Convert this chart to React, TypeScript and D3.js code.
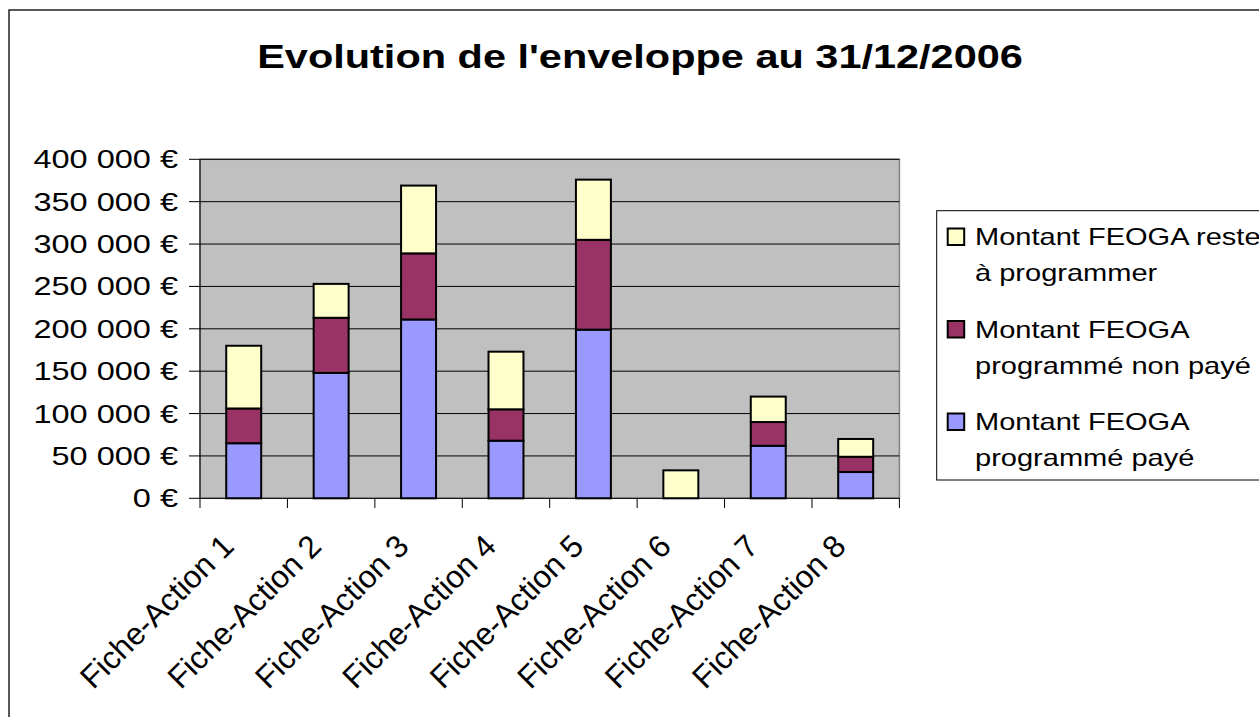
import React from "react";
import * as d3 from "d3";

const categories = [
  "Fiche-Action 1", "Fiche-Action 2", "Fiche-Action 3", "Fiche-Action 4",
  "Fiche-Action 5", "Fiche-Action 6", "Fiche-Action 7", "Fiche-Action 8",
];
// stacked bottom -> top
const programmePaye = [65000, 148000, 211000, 68000, 199000, 0, 62000, 31000];
const programmeNonPaye = [41000, 65000, 78000, 37000, 106000, 0, 28000, 18000];
const resteAProgrammer = [74000, 40000, 80000, 68000, 71000, 33000, 30000, 21000];

const seriesKeys = ["paye", "nonPaye", "reste"];
const seriesColors: Record<string, string> = {
  paye: "#9999FF",
  nonPaye: "#993366",
  reste: "#FFFFCC",
};
// legend lists top series first, like Excel
const legendItems = [
  { key: "reste", lines: ["Montant FEOGA reste", "à programmer"] },
  { key: "nonPaye", lines: ["Montant FEOGA", "programmé non payé"] },
  { key: "paye", lines: ["Montant FEOGA", "programmé payé"] },
];

const FONT = "'Liberation Sans', Arial, Helvetica, sans-serif";
const W = 1259;
const H = 717;

const fmtEuro = (v: number) => d3.format(",")(v).replace(/,/g, " ") + " €";

export default function App() {
  const rows = categories.map((c, i) => ({
    cat: c,
    paye: programmePaye[i],
    nonPaye: programmeNonPaye[i],
    reste: resteAProgrammer[i],
  }));

  const x = d3.scaleBand<string>()
    .domain(categories)
    .range([200, 899.4])
    .paddingInner(0.6)
    .paddingOuter(0.3);

  const y = d3.scaleLinear().domain([0, 400000]).range([498.3, 159.3]);

  const stack = d3.stack<any>().keys(seriesKeys);
  const layers = stack(rows);

  const yTicks = y.ticks(8);
  const step = x.step();
  const x0 = 200;
  const boundaries = d3.range(categories.length + 1).map(i => x0 + i * step);

  return (
    <svg width={W} height={H} style={{ position: "absolute", left: 0, top: 0, overflow: "hidden" }}
      fontFamily={FONT}>
      <rect x={0} y={0} width={W} height={H} fill="#fff" />
      {/* chart border */}
      <rect x={9} y={10} width={W + 20} height={H + 20} fill="none" stroke="#000" strokeWidth={1.3} />

      {/* title */}
      <g transform={`translate(640, 68) scale(1.276, 1)`}>
        <text textAnchor="middle" fontSize={32.5} fontWeight="bold" fill="#000">
          Evolution de l'enveloppe au 31/12/2006
        </text>
      </g>

      {/* plot area */}
      <rect x={200} y={159.3} width={699.4} height={339} fill="#C0C0C0" stroke="#808080" strokeWidth={1.5} />

      {/* gridlines */}
      {yTicks.filter(t => t > 0).map(t => (
        <line key={"g" + t} x1={200} x2={899.4} y1={y(t)} y2={y(t)} stroke="#000" strokeWidth={1} />
      ))}

      {/* bars */}
      {layers.map(layer => (
        <g key={layer.key} fill={seriesColors[layer.key]}>
          {layer.map((d, i) => {
            const h = y(d[0]) - y(d[1]);
            if (h <= 0) return null;
            return (
              <rect key={i} x={x(categories[i])} y={y(d[1])} width={x.bandwidth()} height={h}
                stroke="#000" strokeWidth={2} />
            );
          })}
        </g>
      ))}

      {/* axes */}
      <line x1={200} x2={200} y1={159.3} y2={498.3} stroke="#000" strokeWidth={1} />
      <line x1={200} x2={899.4} y1={498.3} y2={498.3} stroke="#000" strokeWidth={1} />
      {yTicks.map(t => (
        <g key={"y" + t}>
          <line x1={189} x2={200} y1={y(t)} y2={y(t)} stroke="#000" strokeWidth={1} />
          <g transform={`translate(178, ${y(t) + 9}) scale(1.3, 1)`}>
            <text textAnchor="end" fontSize={25} fill="#000">{fmtEuro(t)}</text>
          </g>
        </g>
      ))}
      {boundaries.map((bx, i) => (
        <line key={"xt" + i} x1={bx} x2={bx} y1={498.3} y2={508} stroke="#000" strokeWidth={1} />
      ))}
      {categories.map(c => {
        const cx = (x(c) ?? 0) + x.bandwidth() / 2 - 8;
        return (
          <text key={c} transform={`translate(${cx}, 548) rotate(-45)`} textAnchor="end"
            fontSize={31.5} fill="#000">{c}</text>
        );
      })}

      {/* legend */}
      <rect x={936.7} y={210.7} width={400} height={269.3} fill="#fff" stroke="#000" strokeWidth={1} />
      {legendItems.map((item, i) => {
        const base = 245 + i * 92.5;
        return (
          <g key={item.key}>
            <rect x={947.7} y={base - 16.5} width={16.5} height={16.5} fill={seriesColors[item.key]}
              stroke="#000" strokeWidth={2} />
            {item.lines.map((ln, j) => (
              <g key={j} transform={`translate(975, ${base + j * 36}) scale(1.21, 1)`}>
                <text fontSize={24} fill="#000">{ln}</text>
              </g>
            ))}
          </g>
        );
      })}
    </svg>
  );
}
